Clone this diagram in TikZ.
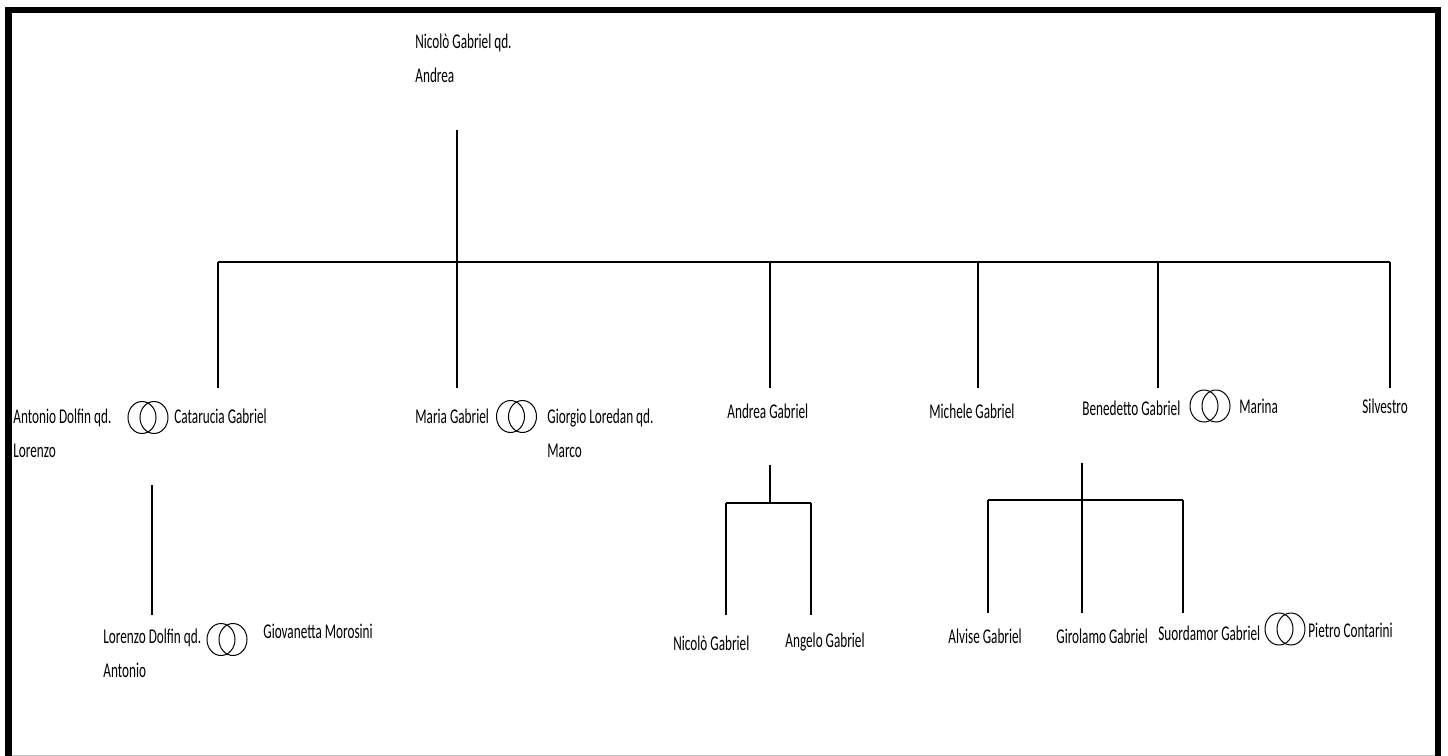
\documentclass[tikz,border=0pt]{standalone}
\usepackage{fontspec}
\setmainfont{Carlito}[FakeStretch=0.63]
\usepackage{tikz}
\usetikzlibrary{shapes}

\begin{document}
\begin{tikzpicture}[x=0.5pt,y=-0.5pt,draw=black!100]
	\def \rowoneht{423}
	\def \rowtwoht{643}
	\tikzstyle{p-node}=[anchor=base west,inner sep=0pt,align=left,font=\fontsize{10.5}{17}\selectfont]
	\tikzstyle{ring}=[ellipse,draw=black!100,line width=0.5pt,inner sep=0pt,minimum width=14pt,minimum height=16pt]
	\tikzstyle{link}=[draw=black!100,line width=0.55pt]
	\useasboundingbox (0,0) rectangle (1448,756);

	% frame
	\draw[gray!50,line width=1pt] (5,755.5) -- (1441,755.5);
	\draw[line width=3.3pt] (8.5,756) -- (8.5,10) -- (1438,10) -- (1438,756);

	% head (base = last line)
	\node[p-node] (p0) at (415,82) {Nicolò Gabriel qd.\\Andrea};

	% children
	\node[p-node] (a0) at (13,457) {Antonio Dolfin qd.\\Lorenzo};
	\node[ring] (r1a) at (142,417.5) {};
	\node[ring] (r1b) at (154,417.5) {};
	\node[p-node] (c1) at (174,\rowoneht) {Catarucia Gabriel};
	\node[p-node] (c2) at (415,\rowoneht) {Maria Gabriel};
	\node[ring] (r2a) at (510.5,416.5) {};
	\node[ring] (r2b) at (522.5,416.5) {};
	\node[p-node] (s2) at (547,457) {Giorgio Loredan qd.\\Marco};
	\node[p-node] (c3) at (727,418) {Andrea Gabriel};
	\node[p-node] (c4) at (929,418) {Michele Gabriel};
	\node[p-node] (c5) at (1082,415) {Benedetto Gabriel};
	\node[ring] (r5a) at (1204,406) {};
	\node[ring] (r5b) at (1216,406) {};
	\node[p-node] (s5) at (1239,413) {Marina};
	\node[p-node] (c6) at (1362,413) {Silvestro};

	% grandchildren
	\node[p-node] (g1) at (103,677) {Lorenzo Dolfin qd.\\Antonio};
	\node[ring] (r6a) at (221,639.5) {};
	\node[ring] (r6b) at (233,639.5) {};
	\node[p-node] (t1) at (263,638) {Giovanetta Morosini};
	\node[p-node] (g2) at (673,650) {Nicolò Gabriel};
	\node[p-node] (g3) at (785,647) {Angelo Gabriel};
	\node[p-node] (g4) at (948,\rowtwoht) {Alvise Gabriel};
	\node[p-node] (g5) at (1056,\rowtwoht) {Girolamo Gabriel};
	\node[p-node] (g6) at (1158,640) {Suordamor Gabriel};
	\node[ring] (r7a) at (1279,629) {};
	\node[ring] (r7b) at (1291,629) {};
	\node[p-node] (t6) at (1308,637) {Pietro Contarini};

	% line ends
	\coordinate (p0-d) at (457,130);
	\coordinate (j0) at (457,262);
	\coordinate (j1) at (218,262);
	\coordinate (j3) at (770,262);
	\coordinate (j4) at (978,262);
	\coordinate (j5) at (1158,262);
	\coordinate (j6) at (1390,262);
	\coordinate (c1-u) at (218,388);
	\coordinate (c2-u) at (457,388);
	\coordinate (c3-u) at (770,388);
	\coordinate (c4-u) at (978,388);
	\coordinate (c5-u) at (1158,388);
	\coordinate (c6-u) at (1390,388);
	\coordinate (c1-d) at (152,485);
	\coordinate (g1-u) at (152,615);
	\coordinate (c3-d) at (770,465);
	\coordinate (k3) at (770,503);
	\coordinate (k3l) at (726,503);
	\coordinate (k3r) at (811,503);
	\coordinate (g2-u) at (726,615);
	\coordinate (g3-u) at (811,615);
	\coordinate (c5-d) at (1082,463);
	\coordinate (k5l) at (988,500);
	\coordinate (k5r) at (1183,500);
	\coordinate (g4-u) at (988,613);
	\coordinate (g5-u) at (1082,613);
	\coordinate (g6-u) at (1183,613);

	\path[link] (p0-d)	edge	(j0)
		(j1)	edge	(j6)
		(j1)	edge	(c1-u)
		(j0)	edge	(c2-u)
		(j3)	edge	(c3-u)
		(j4)	edge	(c4-u)
		(j5)	edge	(c5-u)
		(j6)	edge	(c6-u)
		(c1-d)	edge	(g1-u)
		(c3-d)	edge	(k3)
		(k3l)	edge	(k3r)
		(k3l)	edge	(g2-u)
		(k3r)	edge	(g3-u)
		(c5-d)	edge	(g5-u)
		(k5l)	edge	(k5r)
		(k5l)	edge	(g4-u)
		(k5r)	edge	(g6-u);

\end{tikzpicture}
\end{document}
